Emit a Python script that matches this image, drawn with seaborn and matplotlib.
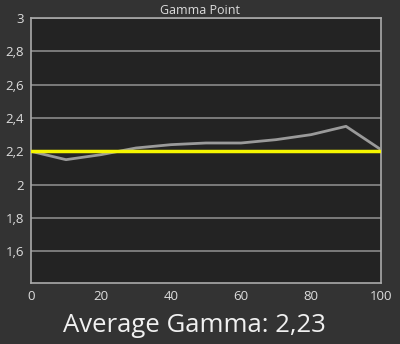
import matplotlib
matplotlib.use("Agg")
import matplotlib.pyplot as plt
import seaborn as sns
import pandas as pd

x_vals = [0, 10, 20, 30, 40, 50, 60, 70, 80, 90, 100]
gamma_vals = [2.20, 2.15, 2.18, 2.22, 2.24, 2.25, 2.25, 2.27, 2.30, 2.35, 2.21]
target_gamma = 2.2
y_ticks = [1.6, 1.8, 2.0, 2.2, 2.4, 2.6, 2.8, 3.0]
y_labels = ["1,6", "1,8", "2", "2,2", "2,4", "2,6", "2,8", "3"]
x_ticks = [0, 20, 40, 60, 80, 100]
title = "Gamma Point"
footer = "Average Gamma: 2,23"

sns.set_style("dark")
plt.rcParams['font.family'] = ['Open Sans', 'DejaVu Sans']

df = pd.DataFrame({"x": x_vals, "gamma": gamma_vals})

fig = plt.figure(figsize=(4, 3.44), dpi=100, facecolor="#333333")
ax = fig.add_axes([31/400, 61/344, 350/400, 265/344])
ax.set_facecolor("#232323")

for t in y_ticks:
    ax.axhline(t, color="#8a8a8a", lw=1.2, zorder=1)

sns.lineplot(data=df, x="x", y="gamma", ax=ax, color="#9a9a9a", lw=2, zorder=3)
ax.axhline(target_gamma, color="#f5f500", lw=2.5, zorder=4)

ax.set_xlim(0, 100)
ax.set_ylim(1.41, 3.0)
ax.set_yticks(y_ticks)
ax.set_yticklabels(y_labels)
ax.set_xticks(x_ticks)
ax.set_xlabel("")
ax.set_ylabel("")
ax.grid(False)
ax.tick_params(colors="#aaaaaa", labelcolor="#dddddd", labelsize=9.5, length=4, width=1, direction="out", pad=1)
for s in ax.spines.values():
    s.set_color("#aaaaaa")
    s.set_linewidth(1.2)

fig.text(0.5, 1 - 10/344, title, ha="center", va="center", color="#dddddd", fontsize=9)
fig.text(194.5/400, 1 - 326/344, footer, ha="center", va="center", color="#f0f0f0", fontsize=18.5)

fig.savefig("out.png", dpi=100, facecolor=fig.get_facecolor())
